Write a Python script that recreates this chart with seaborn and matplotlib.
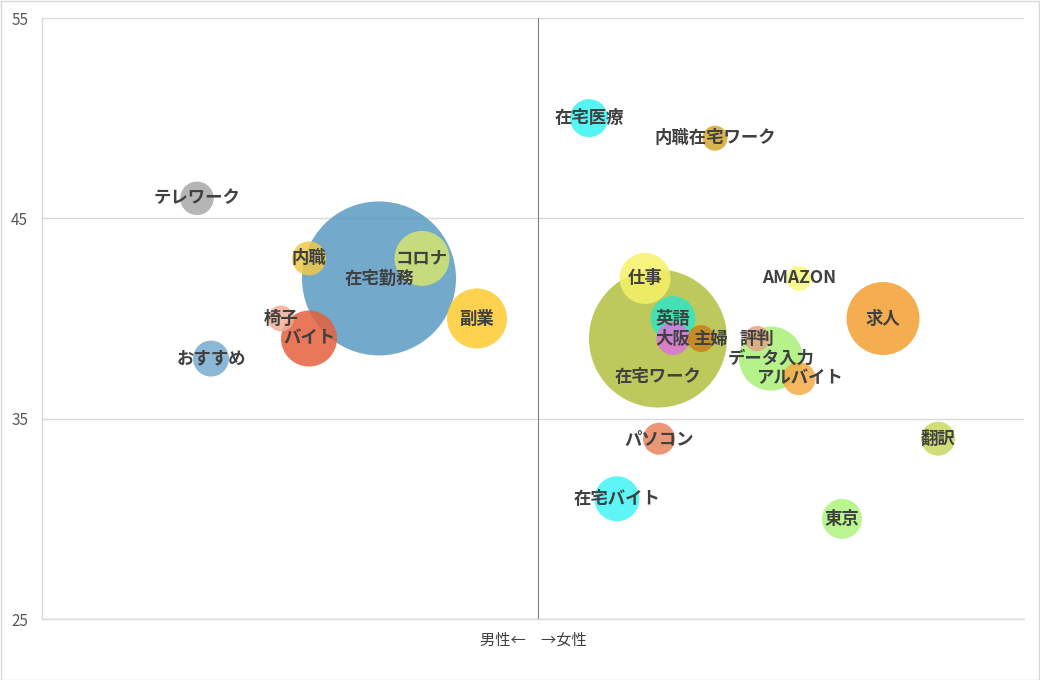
import numpy as np
import pandas as pd
import matplotlib
matplotlib.use("Agg")
import matplotlib.pyplot as plt
from matplotlib.patches import Rectangle
import seaborn as sns

# ---- data ----
keywords = ["テレワーク", "内職", "在宅勤務", "コロナ", "副業", "椅子", "バイト", "おすすめ",
            "在宅医療", "内職在宅ワーク", "仕事", "在宅ワーク", "英語", "大阪", "主婦",
            "AMAZON", "求人", "評判", "データ入力", "アルバイト", "パソコン", "翻訳",
            "在宅バイト", "東京"]
female_score = [15.9, 27.1, 34.1, 38.4, 43.9, 24.3, 27.1, 17.3,
                55.1, 67.7, 60.7, 62.0, 63.5, 63.5, 66.3,
                76.1, 84.5, 71.9, 73.3, 76.1, 62.1, 90.0,
                57.9, 80.4]
age_score = [46, 43, 42, 43, 40, 40, 39, 38,
             50, 49, 42, 39, 40, 39, 39,
             42, 40, 39, 38, 37, 34, 34,
             31, 30]
volume = [280, 289, 5929, 756, 900, 169, 784, 324,
          361, 156, 650, 4761, 500, 272, 182,
          156, 1332, 160, 1024, 272, 256, 289,
          506, 400]
colors = ["#a8a8a8", "#f0c848", "#5a9bc2", "#d4e470", "#fecb30", "#f0ae98", "#e4603c", "#78acd0",
          "#38f4f4", "#d4a830", "#f6f268", "#b2c040", "#30e6c4", "#dc74dc", "#c8801c",
          "#f8f880", "#f4a030", "#e0a488", "#a8f078", "#f6aa44", "#e8845c", "#c8d860",
          "#40f4f4", "#b0f47c"]

label_offsets = {"在宅ワーク": (0, -28), "主婦": (7, 0)}

sns.set_theme(style="white")
plt.rcParams["font.family"] = ["Noto Sans CJK JP", "DejaVu Sans"]

df = pd.DataFrame(dict(keyword=keywords, x=female_score, y=age_score,
                       volume=volume, color=colors))
df = df.sort_values("volume", ascending=False).reset_index(drop=True)

dpi = 100
W, H = 1040, 680
fig = plt.figure(figsize=(W / dpi, H / dpi), dpi=dpi)
fig.patch.set_facecolor("white")
ax = fig.add_axes([42 / W, 1 - 619 / H, 982 / W, 601 / H])

max_r_px = 77
r_px = max_r_px * np.sqrt(df["volume"] / df["volume"].max())
sizes = (2 * r_px * 72 / dpi) ** 2

sns.scatterplot(data=df, x="x", y="y", hue="keyword",
                palette=dict(zip(keywords, colors)), s=sizes.values,
                alpha=0.85, linewidth=0, legend=False, ax=ax, zorder=3)

for _, row in df.iterrows():
    off = label_offsets.get(row["keyword"], (0, 0))
    ax.annotate(row["keyword"], (row["x"], row["y"]), xytext=off,
                textcoords="offset points", ha="center", va="center",
                fontsize=12.5, fontweight="bold", color="#404040", zorder=5)

ax.set_xlim(0.4, 98.6)
ax.set_ylim(25, 55)
ax.set_yticks([25, 35, 45, 55])
ax.set_xticks([])
ax.yaxis.grid(True, color="#d9d9d9", linewidth=1)
ax.set_axisbelow(True)
ax.axvline(50, color="#7f7f7f", linewidth=0.8, zorder=2)
for side in ["top", "right"]:
    ax.spines[side].set_visible(False)
for side in ["left", "bottom"]:
    ax.spines[side].set_color("#d9d9d9")
    ax.spines[side].set_linewidth(1)
ax.tick_params(axis="y", length=0, pad=10, labelsize=11, labelcolor="#595959")
ax.set_ylabel("")
ax.set_xlabel("男性←　→女性", fontsize=11, color="#404040", labelpad=9)

fig.patches.append(Rectangle((0.5 / W, 0.5 / H), 1 - 1.5 / W, 1 - 1.5 / H,
                             transform=fig.transFigure, fill=False,
                             edgecolor="#d9d9d9", linewidth=1))

fig.savefig("out.png", dpi=dpi)
